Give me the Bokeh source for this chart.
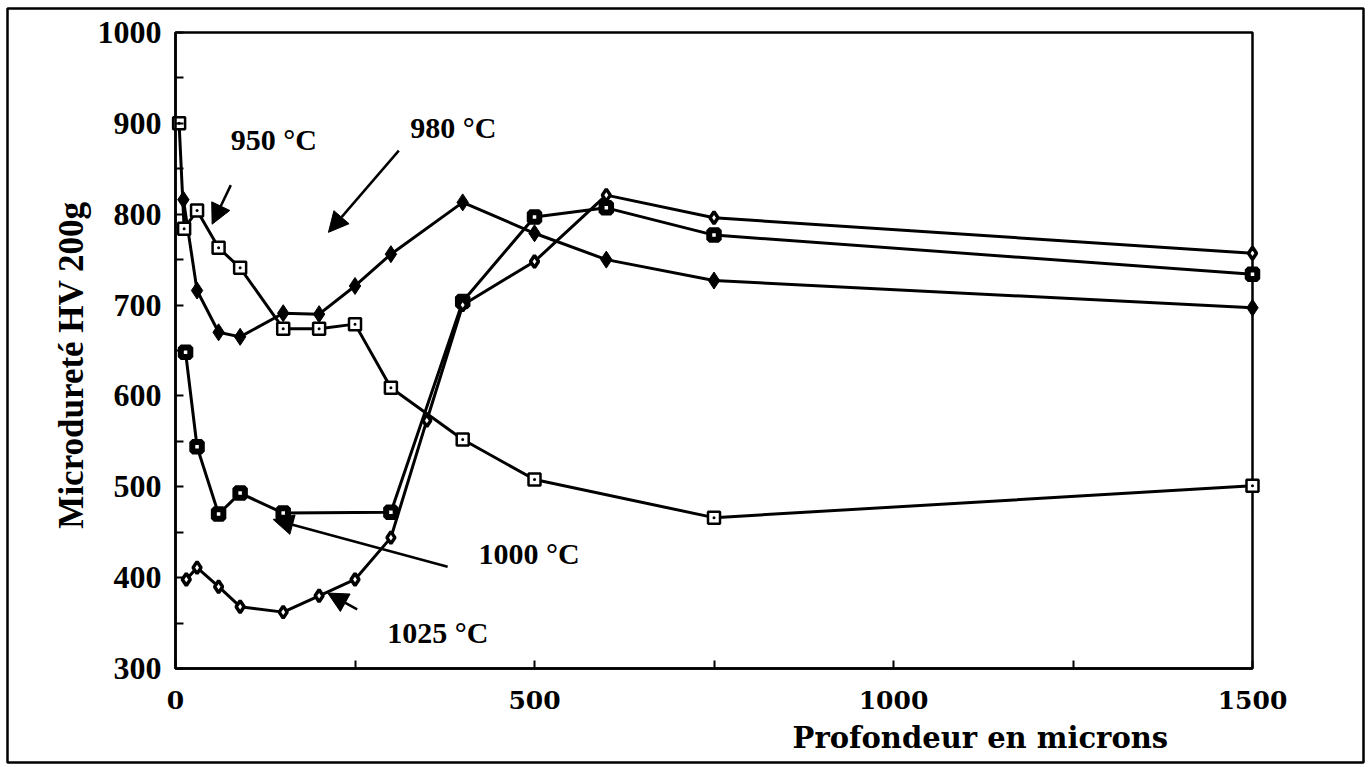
import math
from bokeh.plotting import figure
from bokeh.models import (Range1d, FixedTicker, Label, Arrow, NormalHead, BoxAnnotation)
from bokeh.embed import file_html
from bokeh.resources import INLINE

# --- data ---
x_950 = [5, 12, 30, 60, 90, 150, 200, 250, 300, 400, 500, 750, 1500]
y_950 = [900, 784, 804, 763, 741, 674, 674, 679, 609, 552, 508, 466, 501]

x_980 = [11, 30, 60, 90, 150, 200, 250, 300, 400, 500, 600, 750, 1500]
y_980 = [816, 716, 670, 665, 691, 690, 721, 756, 813, 779, 750, 727, 697]

x_1000 = [14, 30, 60, 90, 150, 300, 400, 500, 600, 750, 1500]
y_1000 = [648, 544, 470, 493, 471, 472, 704, 797, 807, 777, 734]

x_1025 = [15, 30, 60, 90, 150, 200, 250, 300, 350, 400, 500, 600, 750, 1500]
y_1025 = [398, 411, 390, 368, 362, 380, 398, 444, 573, 700, 748, 821, 796, 757]

x_ticks = [0, 500, 1000, 1500]
x_minor = [250, 750, 1250]
y_ticks = [300, 400, 500, 600, 700, 800, 900, 1000]
y_minor = [350, 450, 550, 650, 750, 850, 950]
X_MIN, X_MAX = 0, 1500
Y_MIN, Y_MAX = 300, 1000

# The figure frame is the outer border of the page; the axes sit inside it.
W, H = 1368, 766
p = figure(width=W, height=H, output_backend="svg", toolbar_location=None,
           x_range=Range1d(-234.0, 1654.6), y_range=Range1d(196.5, 1026.4),
           min_border_left=7, min_border_right=5, min_border_top=8,
           min_border_bottom=4)
p.xgrid.visible = False
p.ygrid.visible = False
p.outline_line_color = "black"
p.outline_line_width = 2.5
p.background_fill_color = "white"
p.border_fill_color = "white"

serif_t = "Liberation Serif"
serif_d = "DejaVu Serif"

# x axis
xa = p.xaxis[0]
xa.fixed_location = Y_MIN
xa.bounds = (X_MIN, X_MAX)
xa.ticker = FixedTicker(ticks=x_ticks, minor_ticks=x_minor)
xa.major_tick_in = 8
xa.major_tick_out = 0
xa.minor_tick_in = 8
xa.minor_tick_out = 0
xa.axis_line_width = 2.5
xa.major_tick_line_width = 2
xa.minor_tick_line_width = 2
xa.major_label_text_font = serif_d
xa.major_label_text_font_style = "bold"
xa.major_label_text_font_size = "25px"
xa.major_label_text_color = "black"
xa.major_label_standoff = 23

# y axis
ya = p.yaxis[0]
ya.fixed_location = X_MIN
ya.bounds = (Y_MIN, Y_MAX)
ya.ticker = FixedTicker(ticks=y_ticks, minor_ticks=y_minor)
ya.major_tick_in = 8
ya.major_tick_out = 0
ya.minor_tick_in = 8
ya.minor_tick_out = 0
ya.axis_line_width = 2.5
ya.major_tick_line_width = 2
ya.minor_tick_line_width = 2
ya.major_label_text_font = serif_t
ya.major_label_text_font_style = "bold"
ya.major_label_text_font_size = "32px"
ya.major_label_text_color = "black"
ya.major_label_standoff = 14

# inner plot box
p.add_layout(BoxAnnotation(left=X_MIN, right=X_MAX, bottom=Y_MIN, top=Y_MAX,
                           fill_alpha=0, line_color="black", line_alpha=1.0,
                           line_width=2.5, level="underlay"))

# axis titles
p.add_layout(Label(x=-145, y=634, text="Microdureté HV 200g", angle=math.pi / 2,
                   text_font=serif_t, text_font_style="bold",
                   text_font_size="35px", text_align="center",
                   text_baseline="middle", text_color="black"))
p.add_layout(Label(x=1121, y=223, text="Profondeur en microns",
                   text_font=serif_d, text_font_style="bold",
                   text_font_size="29px", text_align="center",
                   text_baseline="middle", text_color="black"))

# series lines
for xs, ys in [(x_950, y_950), (x_980, y_980), (x_1000, y_1000), (x_1025, y_1025)]:
    p.line(xs, ys, line_color="black", line_width=3)

# markers
p.scatter(x_950, y_950, marker="square_dot", size=12, fill_color="white",
          line_color="black", line_width=2.5)
p.scatter(x_980, y_980, marker="diamond", size=17, fill_color="black",
          line_color="black", line_width=1)
p.scatter(x_1000, y_1000, marker="square", size=9.5, fill_color="white",
          line_color="black", line_width=6)
p.scatter(x_1025, y_1025, marker="diamond", size=12, fill_color="white",
          line_color="black", line_width=3.5)

# annotations
ann = [("950 °C", 77, 882), ("980 °C", 327, 895),
       ("1000 °C", 422, 426), ("1025 °C", 295, 340)]
for t, ax, ay in ann:
    p.add_layout(Label(x=ax, y=ay, text=t, text_font=serif_t,
                       text_font_style="bold", text_font_size="30px",
                       text_baseline="alphabetic", text_color="black"))

arrows = [(77, 832, 51, 789), (311, 870, 213, 780),
          (379, 412, 136, 464), (253, 365, 212, 383)]
for x0, y0, x1, y1 in arrows:
    p.add_layout(Arrow(x_start=x0, y_start=y0, x_end=x1, y_end=y1,
                       line_color="black", line_width=2.5,
                       end=NormalHead(size=20, fill_color="black",
                                      line_color="black")))

open("out.html", "w").write(file_html(p, INLINE))
